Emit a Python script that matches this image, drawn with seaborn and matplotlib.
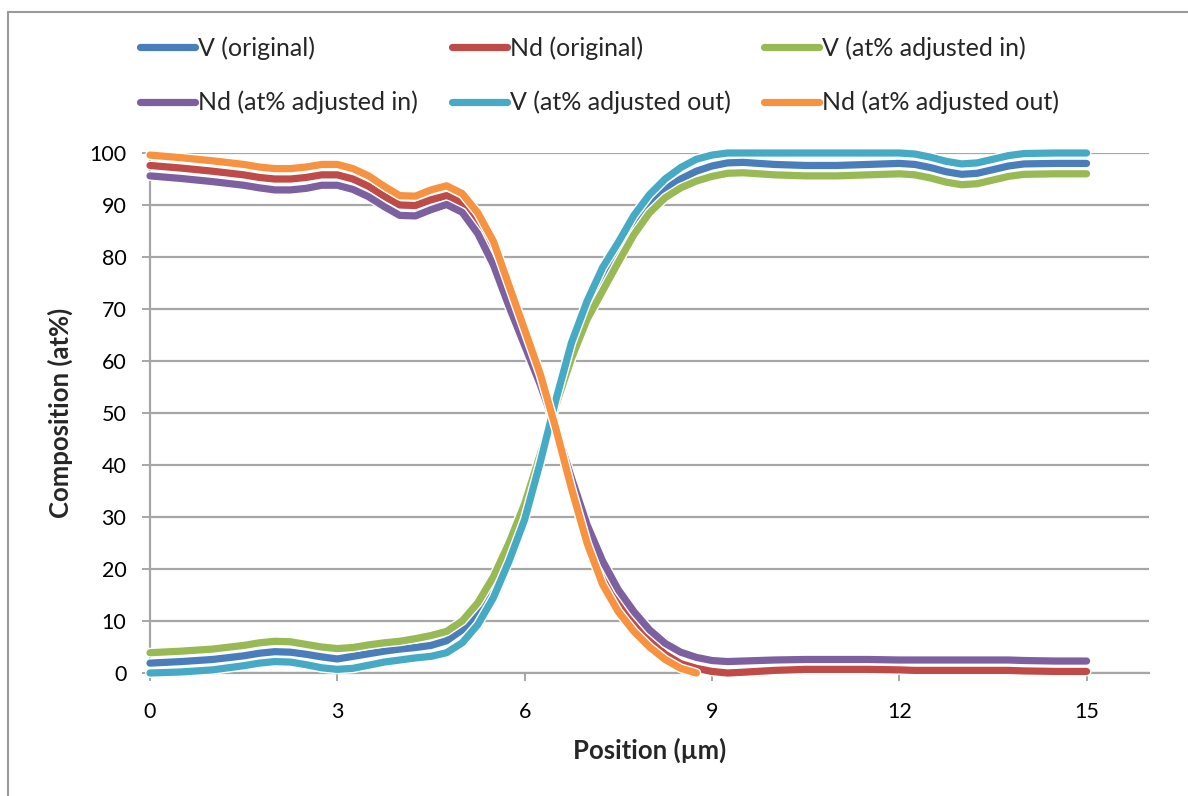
import numpy as np
import pandas as pd
import matplotlib
matplotlib.use("Agg")
import matplotlib.pyplot as plt
import matplotlib.patheffects as pe
from matplotlib.lines import Line2D
import seaborn as sns

# ---------------- data ----------------
position = [0, 0.5, 1, 1.5, 1.75, 2, 2.25, 2.5, 2.75, 3, 3.25, 3.5, 3.75, 4, 4.25, 4.5,
            4.75, 5, 5.25, 5.5, 5.75, 6, 6.25, 6.5, 6.75, 7, 7.25, 7.5, 7.75, 8, 8.25,
            8.5, 8.75, 9, 9.25, 9.5, 10, 10.5, 11, 11.5, 12, 12.25, 12.5, 12.75, 13,
            13.25, 13.5, 13.75, 14, 14.5, 15]

v_original = [1.9, 2.2, 2.6, 3.3, 3.8, 4.1, 4.0, 3.6, 3.1, 2.7, 3.2, 3.7, 4.2, 4.6, 4.9, 5.3,
              6.2, 8.3, 11.2, 16, 22.5, 30.5, 41, 52, 62, 70, 76, 81, 86.3, 90.2, 93,
              95, 96.5, 97.5, 98.1, 98.2, 97.8, 97.6, 97.6, 97.8, 98.0, 97.8, 97.2, 96.4, 95.9,
              96.1, 96.8, 97.5, 97.9, 98.0, 98.0]

nd_original = [97.6, 97.1, 96.5, 95.8, 95.3, 95.0, 95.0, 95.3, 95.8, 95.8, 95.0, 93.6, 91.7,
               90.0, 89.9, 91.0, 91.8, 90.3, 86.5, 81, 72.5, 64.5, 56.5, 47, 36.5, 27, 19,
               13.8, 9.8, 6.3, 3.6, 1.8, 0.9, 0.3, 0.0, 0.15, 0.5, 0.7, 0.7, 0.7, 0.6,
               0.5, 0.5, 0.5, 0.5, 0.5, 0.5, 0.5, 0.4, 0.3, 0.3]

v_adj_in = [3.9, 4.2, 4.6, 5.3, 5.8, 6.1, 6.0, 5.5, 5.0, 4.7, 4.9, 5.4, 5.8, 6.1, 6.6, 7.2,
            8.0, 10.0, 13.5, 18.5, 25, 32.5, 42, 51.5, 60.5, 68, 73.5, 79, 84.3, 88.5, 91.4,
            93.3, 94.6, 95.5, 96.1, 96.2, 95.8, 95.6, 95.6, 95.8, 96.0, 95.8, 95.2, 94.4, 93.9,
            94.1, 94.8, 95.5, 95.9, 96.0, 96.0]

nd_adj_in = [95.6, 95.1, 94.5, 93.8, 93.3, 92.9, 92.9, 93.2, 93.8, 93.8, 93.0, 91.6, 89.7,
             88.0, 87.9, 89.1, 90.1, 88.6, 84.5, 78.5, 70.5, 63, 55.5, 47, 37.5, 28.5, 21.5,
             16, 11.8, 8.3, 5.7, 4.0, 3.0, 2.4, 2.2, 2.3, 2.5, 2.6, 2.6, 2.6, 2.5,
             2.5, 2.5, 2.5, 2.5, 2.5, 2.5, 2.5, 2.4, 2.3, 2.3]

v_adj_out = [0.0, 0.2, 0.6, 1.4, 1.9, 2.2, 2.1, 1.6, 1.0, 0.7, 0.9, 1.5, 2.1, 2.5, 2.9, 3.2,
             3.9, 5.8, 9.3, 14.5, 21.5, 29.5, 40.5, 52.5, 63.5, 71.5, 78, 82.8, 88, 92, 95,
             97.2, 98.8, 99.6, 100, 100, 100, 100, 100, 100, 100, 99.8, 99.2, 98.4, 97.9,
             98.1, 98.8, 99.5, 99.9, 100, 100]

nd_adj_out = [99.6, 99.1, 98.5, 97.8, 97.3, 97.0, 97.0, 97.3, 97.8, 97.8, 97.0, 95.6, 93.6,
              91.8, 91.7, 92.9, 93.7, 92.2, 88.5, 83, 74.5, 66, 57.5, 47, 35.5, 25, 17,
              11.8, 8.0, 5.0, 2.6, 0.9, 0.0, np.nan, np.nan, np.nan, np.nan, np.nan,
              np.nan, np.nan, np.nan, np.nan, np.nan, np.nan, np.nan, np.nan, np.nan,
              np.nan, np.nan, np.nan, np.nan]

series_names = ["V (original)", "Nd (original)", "V (at% adjusted in)",
                "Nd (at% adjusted in)", "V (at% adjusted out)", "Nd (at% adjusted out)"]
series_values = [v_original, nd_original, v_adj_in, nd_adj_in, v_adj_out, nd_adj_out]
series_colors = ["#4A7EBB", "#BE4B48", "#98B954", "#7D60A0", "#46AAC5", "#F69240"]

x_ticks = [0, 3, 6, 9, 12, 15]
y_ticks = [0, 10, 20, 30, 40, 50, 60, 70, 80, 90, 100]

# ---------------- figure ----------------
sns.set_theme(style="white")
plt.rcParams["font.family"] = ["Lato", "DejaVu Sans"]

fig = plt.figure(figsize=(11.88, 7.96), dpi=100)
ax = fig.add_axes([150 / 1188, 1 - 673 / 796, (1149 - 150) / 1188, (673 - 153) / 796])

lw = 5.2
for name, vals, col in zip(series_names, series_values, series_colors):
    df = pd.DataFrame({"Position": position, "Composition": vals}).dropna()
    sns.lineplot(data=df, x="Position", y="Composition", ax=ax, color=col,
                 linewidth=lw, sort=False, estimator=None, legend=False,
                 solid_capstyle="round", solid_joinstyle="round", clip_on=False, zorder=3,
                 path_effects=[pe.Stroke(linewidth=lw + 2.0, foreground="white"), pe.Normal()])

ax.set_xlim(0, 16)
ax.set_ylim(0, 100)
ax.set_xticks(x_ticks)
ax.set_yticks(y_ticks)
ax.set_xticklabels([str(t) for t in x_ticks])
ax.set_yticklabels([str(t) for t in y_ticks])

grid_col = "#A6A6A6"
ax.yaxis.grid(True, color=grid_col, linewidth=1.6)
ax.xaxis.grid(False)
ax.set_axisbelow(True)
for s in ["top", "right"]:
    ax.spines[s].set_visible(False)
for s in ["left", "bottom"]:
    ax.spines[s].set_color(grid_col)
    ax.spines[s].set_linewidth(1.6)
    ax.spines[s].set_zorder(1)

ax.tick_params(axis="both", which="major", direction="out", length=6, width=1.4,
               color=grid_col, labelsize=15.5, labelcolor="#000000")
ax.tick_params(axis="y", pad=11)
ax.tick_params(axis="x", pad=15)
ax.tick_params(left=True, bottom=True)

ax.set_xlabel("Position (µm)", fontsize=18.5, fontweight="bold", labelpad=11)
ax.set_ylabel("Composition (at%)", fontsize=18.5, fontweight="bold", labelpad=12)

# legend (column-major ordering to reproduce the 2 x 3 layout)
order = [0, 3, 1, 4, 2, 5]
handles = [Line2D([0], [0], color=series_colors[i], linewidth=lw, solid_capstyle="round")
           for i in order]
labels = [series_names[i] for i in order]
fig.legend(handles, labels, loc="upper left", bbox_to_anchor=(140 / 1188, 1 - 36 / 796),
           ncol=3, frameon=False, fontsize=18, handlelength=2.2, handletextpad=0.12,
           columnspacing=1.35, labelspacing=1.25, borderaxespad=0, borderpad=0)

# chart border (left and top edges visible in reference)
fig.add_artist(Line2D([8 / 1188, 8 / 1188], [0, 1 - 12 / 796], transform=fig.transFigure,
                      color="#9A9A9A", linewidth=1.5))
fig.add_artist(Line2D([8 / 1188, 1], [1 - 12 / 796, 1 - 12 / 796], transform=fig.transFigure,
                      color="#9A9A9A", linewidth=1.5))

fig.savefig("out.png", dpi=100, facecolor="white")
